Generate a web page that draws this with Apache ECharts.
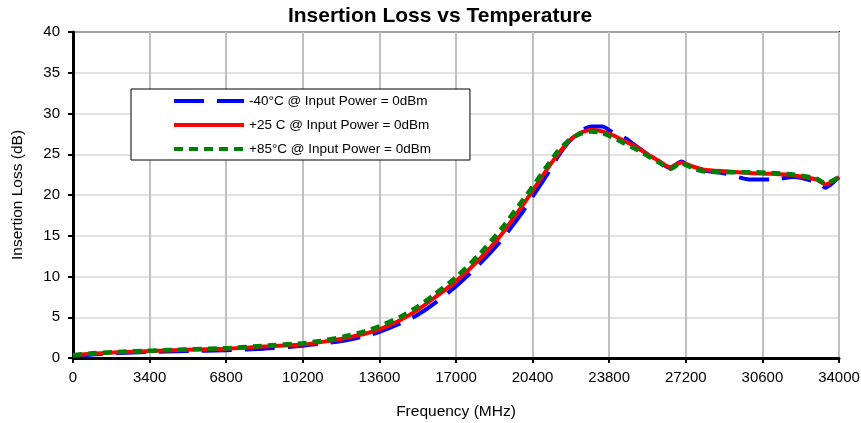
<!DOCTYPE html>
<html>
<head>
<meta charset="utf-8">
<script src="https://cdn.jsdelivr.net/npm/echarts@6/dist/echarts.min.js"></script>
<style>html,body{margin:0;padding:0;background:#fff}#c{width:861px;height:423px}</style>
</head>
<body>
<div id="c"></div>
<script>
const freqs = [0, 1000, 2000, 3400, 5000, 6800, 8500, 10200, 11000, 12000, 13000, 13600, 14500, 15300, 16000, 17000, 18000, 19000, 20000, 20400, 21000, 21500, 22000, 22500, 23000, 23500, 24000, 24500, 25000, 25500, 26000, 26500, 27000, 27500, 28000, 29000, 30000, 31000, 32000, 33000, 33400, 34000];
const lossM40 = [0.2, 0.45, 0.6, 0.75, 0.85, 0.95, 1.15, 1.5, 1.75, 2.1, 2.7, 3.2, 4.2, 5.3, 6.6, 8.8, 11.4, 14.4, 18.1, 19.8, 22.3, 24.6, 26.5, 27.8, 28.4, 28.4, 27.6, 27.0, 26.0, 25.0, 24.1, 23.3, 24.1, 23.4, 23.0, 22.6, 21.9, 21.9, 22.2, 21.6, 20.9, 22.2];
const lossP25 = [0.35, 0.55, 0.7, 0.85, 1.0, 1.15, 1.4, 1.65, 1.95, 2.4, 3.0, 3.5, 4.6, 5.9, 7.3, 9.4, 12.0, 15.1, 18.9, 20.5, 23.0, 24.9, 26.6, 27.6, 28.0, 27.8, 27.3, 26.6, 25.9, 25.0, 24.2, 23.4, 24.0, 23.5, 23.1, 22.9, 22.7, 22.6, 22.4, 21.9, 21.3, 22.2];
const lossP85 = [0.35, 0.6, 0.75, 0.9, 1.05, 1.2, 1.5, 1.8, 2.1, 2.6, 3.3, 3.9, 5.0, 6.3, 7.7, 9.9, 12.6, 15.8, 19.5, 21.0, 23.4, 25.3, 26.7, 27.5, 27.8, 27.6, 27.0, 26.3, 25.6, 24.8, 24.0, 23.2, 23.9, 23.3, 22.9, 22.8, 22.8, 22.7, 22.5, 22.0, 21.4, 22.2];
const seriesNames = ['-40°C @ Input Power = 0dBm', '+25 C @ Input Power = 0dBm', '+85°C @ Input Power = 0dBm'];
const xTicks = {min: 0, max: 34000, interval: 3400};
const yTicks = {min: 0, max: 40, interval: 5};

const FONT = '"Liberation Sans", Arial, sans-serif';
const pair = arr => freqs.map((f, i) => [f, arr[i]]);

const chart = echarts.init(document.getElementById('c'), null, {renderer: 'canvas'});
chart.setOption({
  animation: false,
  backgroundColor: '#fff',
  title: {
    text: 'Insertion Loss vs Temperature',
    left: 435, top: 1, textAlign: 'center',
    textStyle: {fontFamily: FONT, fontSize: 21, fontWeight: 'bold', color: '#000'}
  },
  legend: {
    orient: 'vertical',
    left: 131, top: 89,
    itemWidth: 70, itemHeight: 5, itemGap: 10,
    padding: [5, 39, 4, 41],
    borderColor: '#000', borderWidth: 1,
    backgroundColor: '#fff',
    itemStyle: {opacity: 0},
    lineStyle: {width: 4},
    textStyle: {fontFamily: FONT, fontSize: 13.5, color: '#000'},
    data: seriesNames
  },
  grid: {left: 73, top: 32, right: 22, bottom: 65, show: true, borderColor: '#000', borderWidth: 2,
         containLabel: false, outerBoundsMode: 'none'},
  xAxis: {
    type: 'value', min: xTicks.min, max: xTicks.max, interval: xTicks.interval,
    name: 'Frequency (MHz)', nameLocation: 'middle', nameGap: 46,
    nameTextStyle: {fontFamily: FONT, fontSize: 15.5, color: '#000'},
    axisLine: {show: true, onZero: false, lineStyle: {color: '#000', width: 3}},
    axisTick: {show: true, length: 5, lineStyle: {color: '#000', width: 2}},
    axisLabel: {fontFamily: FONT, fontSize: 15, color: '#000', margin: 12, formatter: v => String(v)},
    splitLine: {show: true, lineStyle: {color: '#c0c0c0', width: 2}}
  },
  yAxis: {
    type: 'value', min: yTicks.min, max: yTicks.max, interval: yTicks.interval,
    name: 'Insertion Loss (dB)', nameLocation: 'middle', nameGap: 47,
    nameTextStyle: {fontFamily: FONT, fontSize: 15.5, color: '#000'},
    axisLine: {show: true, lineStyle: {color: '#000', width: 3}},
    axisTick: {show: true, length: 5, lineStyle: {color: '#000', width: 2}},
    axisLabel: {fontFamily: FONT, fontSize: 15, color: '#000', margin: 13, formatter: v => String(v)},
    splitLine: {show: true, lineStyle: {color: '#d9d9d9', width: 1.5}}
  },
  series: [
    {name: seriesNames[0], type: 'line', data: pair(lossM40), symbol: 'none', smooth: 0.2,
     color: '#0000ff', lineStyle: {color: '#0000ff', width: 4, type: [30, 13]}, z: 2},
    {name: seriesNames[1], type: 'line', data: pair(lossP25), symbol: 'none', smooth: 0.2,
     color: '#ff0000', lineStyle: {color: '#ff0000', width: 4, type: 'solid'}, z: 3},
    {name: seriesNames[2], type: 'line', data: pair(lossP85), symbol: 'none', smooth: 0.2,
     color: '#008000', lineStyle: {color: '#008000', width: 4.5, type: [9, 6]}, z: 4}
  ]
});
</script>
</body>
</html>
